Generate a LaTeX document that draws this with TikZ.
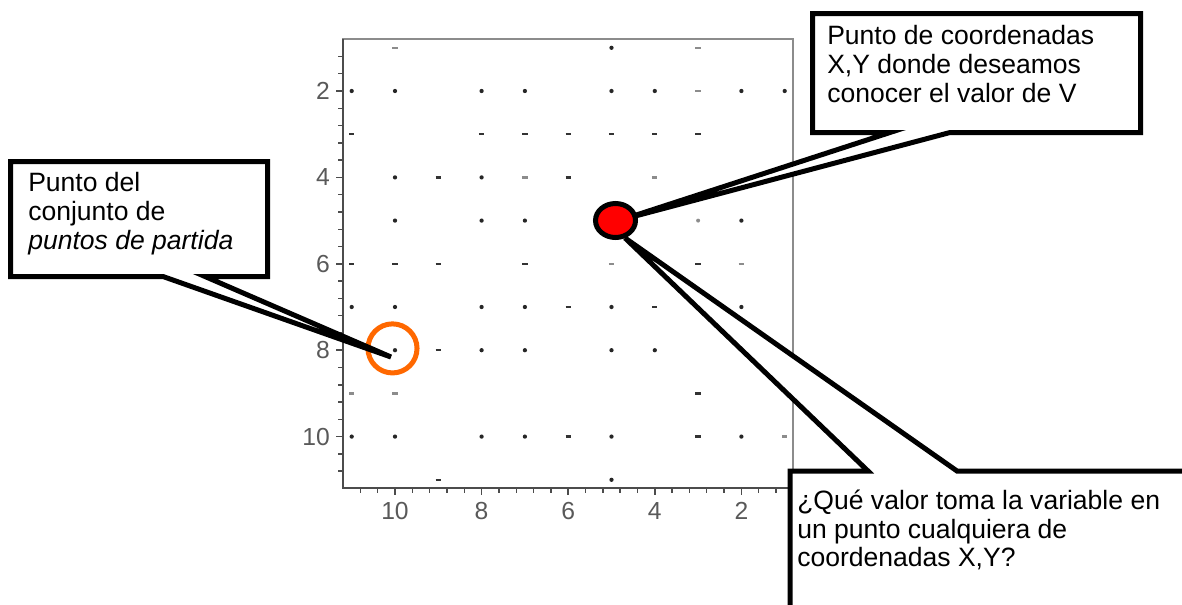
\documentclass[tikz,border=0pt]{standalone}
\usepackage{fontspec}
\setmainfont{Liberation Sans}
\definecolor{naranja}{RGB}{255,104,0}

\begin{document}
\begin{tikzpicture}[x=0.75pt,y=-0.75pt,
 callout/.style={draw,line width=3.75pt,fill=white},
 note/.style={anchor=north west,inner sep=0pt,align=left,font=\fontsize{19.9}{21.4}\selectfont},
 ticklbl/.style={text=black!65,inner sep=0pt,font=\fontsize{18.5}{20}\selectfont},
 axisln/.style={draw=black!70,line width=1.1pt},
 pdot/.style={fill=black!85},
 pbar/.style={draw=black!80,line width=1.7pt},
 fbar/.style={draw=black!45,line width=1.7pt}]
\useasboundingbox (0,0) rectangle (1182,604);
% plot of the starting points (X reversed)
\begin{scope}[shift={(828,4.6)},x=-32.475pt,y=-32.4pt]
\draw[black!45,line width=1.5pt] (0.8,0.8) rectangle (11.2,11.2);
\draw[black!70,line width=1.5pt] (11.2,0.8) -- (11.2,11.2) -- (0.8,11.2);
\foreach \t in {1.2,1.6,...,10.9}{
 \draw[axisln] (11.2,\t) -- ++(-3.5pt,0);
 \draw[axisln] (\t,11.2) -- ++(0,-3.5pt);}
\foreach \t in {2,4,...,10}{
 \draw[axisln] (11.2,\t) -- ++(-5pt,0);
 \draw[axisln] (\t,11.2) -- ++(0,-5pt);
 \node[ticklbl,anchor=east] (ly\t) at ([xshift=-9.75pt]11.2,\t) {\t};
 \node[ticklbl,anchor=north] (lx\t) at ([yshift=-10pt]\t,11.2) {\t};}
\foreach \x/\y in {5/1,11/2,10/2,8/2,7/2,5/2,4/2,2/2,1/2,10/4,8/4,
 10/5,8/5,7/5,2/5,11/7,10/7,8/7,7/7,5/7,2/7,10/8,8/8,7/8,5/8,4/8,
 11/10,10/10,8/10,7/10,5/10,2/10,5/11}
 \fill[pdot] (\x,\y) circle[radius=1.6pt];
\foreach \x/\y in {11/3,8/3,7/3,6/3,5/3,4/3,3/3,9/4,6/4,11/6,10/6,9/6,7/6,3/6,
 6/7,4/7,9/8,3/9,6/10,3/10,9/11}
 \draw[pbar] ([xshift=-2pt]\x,\y) -- ([xshift=2pt]\x,\y);
\foreach \x/\y in {10/1,3/1,3/2,7/4,4/4,5/6,2/6,11/9,10/9,1/10}
 \draw[fbar] ([xshift=-2pt]\x,\y) -- ([xshift=2pt]\x,\y);
\fill[black!45] (3,5) circle[radius=1.5pt];
\fill[black!30] (2,8) circle[radius=1.5pt];
\end{scope}
% points
\coordinate (partida) at (391,357);
\coordinate (puntoV) at (615.5,220.5);
\coordinate (tipV) at (624,219);
\coordinate (tipQ) at (625,238);
\draw[naranja,line width=3.75pt] (392.5,348.4) circle[radius=18.4pt];
% callouts
\draw[callout] (10.5,161.5) -- (267.5,161.5) -- (267.5,276.5) -- (205,276.5)
 -- (partida) -- (163,276.5) -- (10.5,276.5) -- cycle;
\draw[callout] (812.5,13.5) -- (1140.5,13.5) -- (1140.5,132.5) -- (950,132.5)
 -- (tipV) -- (890,132.5) -- (812.5,132.5) -- cycle;
\draw[callout] (790,615) -- (790,471) -- (868,471) -- (tipQ) -- (957,471)
 -- (1195,471) -- (1195,615) -- cycle;
\draw[line width=3.75pt,fill=red] (puntoV) ellipse[x radius=15pt,y radius=12.75pt];
% texts
\node[note] (txtA) at (28,172.5) {Punto del\\conjunto de\\\textit{puntos de partida}};
\node[note] (txtV) at (827,25.5) {Punto de coordenadas\\X,Y donde deseamos\\conocer el valor de V};
\node[note] (txtQ) at (797,490) {¿Qué valor toma la variable en\\un punto cualquiera de\\coordenadas X,Y?};
\end{tikzpicture}
\end{document}
